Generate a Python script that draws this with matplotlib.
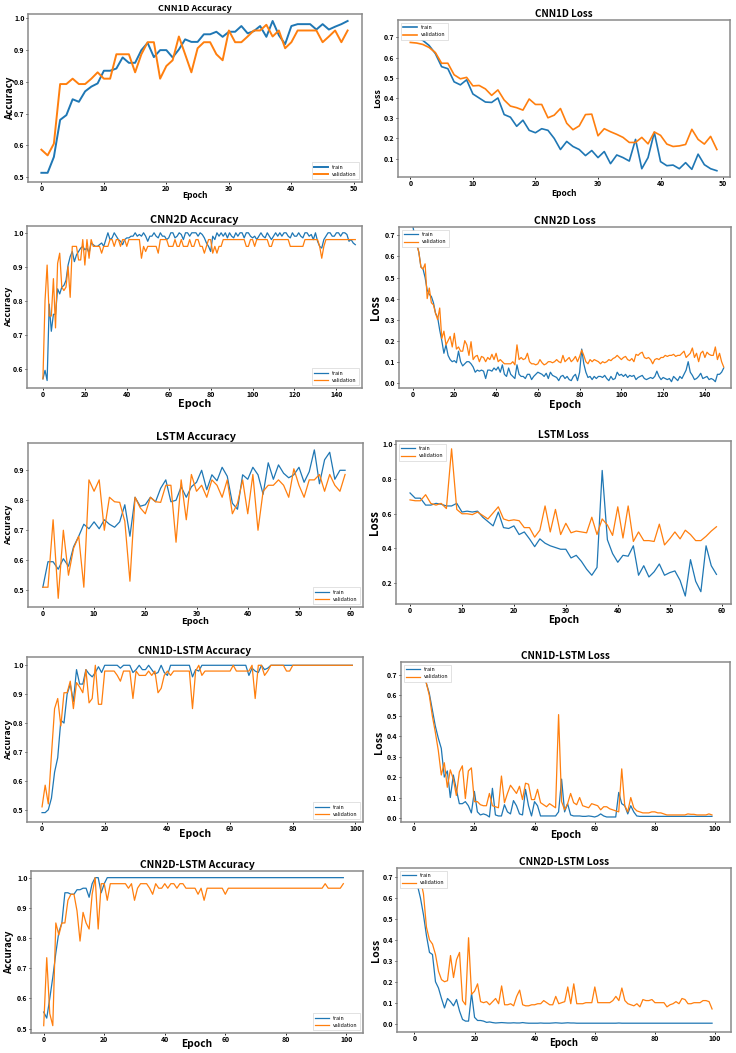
import numpy as np
import matplotlib
matplotlib.use("Agg")
import matplotlib.pyplot as plt

plt.rcParams['font.family'] = ['Noto Sans CJK KR', 'DejaVu Sans']

# ---- CNN1D (50 epochs)
cnn1d_acc_train = [0.513, 0.513, 0.563, 0.680, 0.695, 0.745, 0.737, 0.770, 0.785, 0.795,
                   0.835, 0.835, 0.842, 0.877, 0.860, 0.860, 0.900, 0.923, 0.878, 0.900,
                   0.900, 0.877, 0.902, 0.934, 0.926, 0.926, 0.950, 0.950, 0.958, 0.942,
                   0.958, 0.958, 0.976, 0.953, 0.960, 0.976, 0.942, 0.992, 0.947, 0.919,
                   0.976, 0.982, 0.982, 0.982, 0.965, 0.982, 0.965, 0.974, 0.982, 0.992]
cnn1d_acc_val = [0.586, 0.568, 0.605, 0.793, 0.793, 0.810, 0.793, 0.793, 0.810, 0.830,
                 0.810, 0.810, 0.887, 0.887, 0.887, 0.830, 0.887, 0.925, 0.925, 0.810,
                 0.850, 0.868, 0.943, 0.887, 0.830, 0.906, 0.925, 0.925, 0.887, 0.868,
                 0.962, 0.925, 0.925, 0.943, 0.962, 0.962, 0.980, 0.943, 0.962, 0.906,
                 0.925, 0.962, 0.962, 0.962, 0.962, 0.925, 0.943, 0.962, 0.925, 0.962]
cnn1d_loss_train = [0.750, 0.700, 0.685, 0.660, 0.620, 0.555, 0.545, 0.480, 0.465, 0.490,
                    0.420, 0.400, 0.380, 0.378, 0.400, 0.318, 0.305, 0.260, 0.290, 0.240,
                    0.228, 0.248, 0.240, 0.200, 0.145, 0.185, 0.160, 0.145, 0.115, 0.140,
                    0.105, 0.135, 0.075, 0.118, 0.105, 0.088, 0.195, 0.050, 0.105, 0.230,
                    0.085, 0.065, 0.068, 0.050, 0.080, 0.047, 0.122, 0.070, 0.050, 0.040]
cnn1d_loss_val = [0.675, 0.672, 0.665, 0.650, 0.625, 0.572, 0.572, 0.515, 0.495, 0.502,
                  0.460, 0.462, 0.445, 0.413, 0.440, 0.390, 0.360, 0.352, 0.340, 0.395,
                  0.368, 0.368, 0.302, 0.315, 0.348, 0.275, 0.243, 0.262, 0.318, 0.320,
                  0.213, 0.248, 0.233, 0.220, 0.205, 0.180, 0.180, 0.205, 0.173, 0.232,
                  0.215, 0.172, 0.160, 0.163, 0.170, 0.245, 0.195, 0.172, 0.210, 0.145]

# ---- CNN2D (150 epochs)
cnn2d_acc_train = [0.57, 0.595, 0.565, 0.79, 0.71, 0.76, 0.76, 0.835, 0.82, 0.84,
                   0.845, 0.86, 0.905, 0.93, 0.945, 0.915, 0.935, 0.945, 0.955, 0.96,
                   0.95, 0.955, 0.94, 0.97, 0.965, 0.96, 0.96, 0.965, 0.97, 0.96,
                   0.98, 1.0, 0.98, 0.985, 1.0, 0.99, 0.98, 0.975, 0.965, 0.98,
                   0.985, 0.985, 0.99, 0.99, 1.0, 0.99, 0.995, 0.99, 1.0, 0.99,
                   0.975, 0.99, 0.99, 1.0, 0.99, 0.985, 1.0, 0.99, 0.99, 0.98,
                   0.985, 1.0, 1.0, 0.985, 0.99, 1.0, 0.995, 0.98, 1.0, 1.0,
                   0.99, 1.0, 1.0, 1.0, 0.99, 1.0, 0.995, 0.985, 0.97, 0.96,
                   0.945, 0.99, 0.98, 1.0, 0.99, 1.0, 0.99, 1.0, 0.985, 1.0,
                   0.99, 0.985, 1.0, 0.99, 1.0, 1.0, 0.985, 1.0, 1.0, 0.99,
                   0.985, 0.99, 0.98, 0.99, 1.0, 0.99, 0.985, 1.0, 0.99, 0.98,
                   0.99, 1.0, 0.99, 1.0, 0.99, 1.0, 1.0, 0.99, 0.985, 1.0,
                   0.99, 0.99, 1.0, 0.99, 0.985, 1.0, 1.0, 0.99, 0.995, 0.98,
                   1.0, 0.975, 0.96, 0.955, 0.98, 0.99, 1.0, 1.0, 0.99, 0.99,
                   1.0, 1.0, 0.99, 1.0, 1.0, 0.995, 0.975, 0.98, 0.97, 0.965]
cnn2d_acc_val = [0.57, 0.80, 0.905, 0.755, 0.755, 0.865, 0.72, 0.91, 0.94, 0.84,
                 0.83, 0.84, 0.90, 0.81, 0.96, 0.96, 0.96, 0.92, 0.92, 0.98,
                 0.905, 0.98, 0.925, 0.98, 0.96, 0.96, 0.96, 0.96, 0.94, 0.96,
                 0.96, 0.96, 0.98, 0.98, 0.96, 0.98, 0.98, 0.96, 0.98, 0.98,
                 0.96, 0.98, 0.98, 0.98, 0.98, 0.98, 0.98, 0.925, 0.96, 0.945,
                 0.96, 0.96, 0.96, 0.96, 0.96, 0.94, 0.98, 0.98, 0.98, 0.98,
                 0.96, 0.96, 0.96, 0.98, 0.96, 0.96, 0.98, 0.96, 0.96, 0.96,
                 0.98, 0.96, 0.96, 0.98, 0.98, 0.96, 0.96, 0.94, 0.96, 0.98,
                 0.98, 0.94, 0.96, 0.94, 0.96, 0.96, 0.98, 0.98, 0.98, 0.98,
                 0.98, 0.98, 0.98, 0.98, 0.98, 0.98, 0.98, 0.96, 0.96, 0.98,
                 0.98, 0.96, 0.98, 0.98, 0.98, 0.98, 0.98, 0.98, 0.96, 0.96,
                 0.98, 0.98, 0.98, 0.98, 0.98, 0.98, 0.98, 0.98, 0.96, 0.96,
                 0.96, 0.96, 0.96, 0.96, 0.96, 0.98, 0.98, 0.98, 0.98, 0.98,
                 0.98, 0.98, 0.96, 0.925, 0.96, 0.98, 0.98, 0.98, 0.98, 0.98,
                 0.98, 0.98, 0.98, 0.98, 0.98, 0.98, 0.98, 0.98, 0.98, 0.98]
cnn2d_loss_train = [0.75, 0.70, 0.66, 0.62, 0.55, 0.54, 0.50, 0.44, 0.42, 0.41,
                    0.38, 0.33, 0.31, 0.25, 0.20, 0.14, 0.18, 0.13, 0.11, 0.10,
                    0.105, 0.095, 0.15, 0.10, 0.08, 0.09, 0.10, 0.10, 0.09, 0.075,
                    0.05, 0.06, 0.055, 0.06, 0.055, 0.02, 0.06, 0.06, 0.055, 0.07,
                    0.06, 0.075, 0.05, 0.085, 0.04, 0.03, 0.07, 0.04, 0.03, 0.02,
                    0.085, 0.04, 0.03, 0.03, 0.02, 0.04, 0.04, 0.015, 0.03, 0.04,
                    0.05, 0.045, 0.04, 0.03, 0.045, 0.02, 0.05, 0.035, 0.03, 0.025,
                    0.01, 0.03, 0.035, 0.02, 0.03, 0.015, 0.01, 0.03, 0.04, 0.01,
                    0.05, 0.16, 0.09, 0.05, 0.025, 0.03, 0.015, 0.03, 0.02, 0.03,
                    0.03, 0.025, 0.035, 0.02, 0.01, 0.03, 0.015, 0.02, 0.05, 0.035,
                    0.04, 0.03, 0.04, 0.025, 0.035, 0.03, 0.035, 0.015, 0.025, 0.03,
                    0.035, 0.02, 0.015, 0.02, 0.025, 0.02, 0.03, 0.055, 0.03, 0.015,
                    0.025, 0.02, 0.015, 0.02, 0.005, 0.03, 0.02, 0.01, 0.03, 0.02,
                    0.04, 0.06, 0.10, 0.05, 0.035, 0.015, 0.02, 0.03, 0.045, 0.02,
                    0.025, 0.03, 0.015, 0.02, 0.015, 0.005, 0.04, 0.04, 0.05, 0.07]
cnn2d_loss_val = [0.72, 0.69, 0.66, 0.62, 0.55, 0.54, 0.565, 0.40, 0.45, 0.38,
                  0.37, 0.33, 0.30, 0.355, 0.21, 0.245, 0.18, 0.20, 0.22, 0.17,
                  0.235, 0.16, 0.17, 0.15, 0.15, 0.20, 0.18, 0.13, 0.195, 0.11,
                  0.125, 0.13, 0.10, 0.125, 0.12, 0.10, 0.12, 0.11, 0.135, 0.11,
                  0.14, 0.10, 0.11, 0.10, 0.09, 0.09, 0.09, 0.09, 0.10, 0.085,
                  0.18, 0.11, 0.12, 0.11, 0.115, 0.14, 0.10, 0.09, 0.09, 0.085,
                  0.09, 0.11, 0.095, 0.085, 0.09, 0.10, 0.10, 0.095, 0.10, 0.11,
                  0.10, 0.095, 0.13, 0.10, 0.11, 0.12, 0.10, 0.11, 0.125, 0.10,
                  0.125, 0.155, 0.13, 0.10, 0.09, 0.11, 0.10, 0.11, 0.105, 0.10,
                  0.09, 0.10, 0.095, 0.10, 0.11, 0.105, 0.115, 0.12, 0.13, 0.12,
                  0.11, 0.12, 0.125, 0.11, 0.105, 0.115, 0.10, 0.135, 0.13, 0.14,
                  0.145, 0.12, 0.115, 0.12, 0.11, 0.09, 0.11, 0.115, 0.11, 0.12,
                  0.12, 0.13, 0.125, 0.13, 0.13, 0.135, 0.125, 0.13, 0.13, 0.14,
                  0.15, 0.12, 0.13, 0.14, 0.165, 0.12, 0.14, 0.10, 0.14, 0.15,
                  0.12, 0.145, 0.135, 0.13, 0.13, 0.17, 0.11, 0.14, 0.10, 0.075]

# ---- LSTM (60 epochs)
lstm_acc_train = [0.51, 0.595, 0.595, 0.57, 0.605, 0.58, 0.645, 0.68, 0.72, 0.705,
                  0.728, 0.705, 0.735, 0.72, 0.71, 0.728, 0.785, 0.68, 0.81, 0.78,
                  0.785, 0.81, 0.795, 0.84, 0.868, 0.795, 0.80, 0.845, 0.81, 0.845,
                  0.86, 0.90, 0.835, 0.885, 0.865, 0.91, 0.88, 0.79, 0.77, 0.885,
                  0.87, 0.91, 0.885, 0.82, 0.925, 0.87, 0.918, 0.89, 0.875, 0.885,
                  0.91, 0.86, 0.895, 0.968, 0.855, 0.935, 0.96, 0.87, 0.90, 0.90]
lstm_acc_val = [0.51, 0.51, 0.735, 0.473, 0.70, 0.55, 0.64, 0.68, 0.51, 0.868,
                0.83, 0.868, 0.70, 0.81, 0.795, 0.793, 0.73, 0.53, 0.81, 0.775,
                0.755, 0.81, 0.795, 0.793, 0.85, 0.85, 0.66, 0.868, 0.735, 0.886,
                0.83, 0.85, 0.81, 0.868, 0.85, 0.81, 0.868, 0.755, 0.79, 0.868,
                0.755, 0.886, 0.70, 0.83, 0.85, 0.85, 0.868, 0.85, 0.81, 0.905,
                0.85, 0.81, 0.868, 0.868, 0.886, 0.83, 0.886, 0.85, 0.83, 0.886]
lstm_loss_train = [0.72, 0.69, 0.69, 0.65, 0.65, 0.66, 0.655, 0.645, 0.645, 0.66,
                   0.61, 0.615, 0.61, 0.615, 0.58, 0.555, 0.53, 0.61, 0.52, 0.515,
                   0.53, 0.48, 0.495, 0.455, 0.41, 0.455, 0.43, 0.415, 0.405, 0.395,
                   0.395, 0.345, 0.36, 0.325, 0.28, 0.245, 0.29, 0.85, 0.45, 0.37,
                   0.32, 0.36, 0.355, 0.415, 0.245, 0.30, 0.235, 0.265, 0.31, 0.245,
                   0.26, 0.27, 0.215, 0.125, 0.335, 0.21, 0.15, 0.415, 0.30, 0.25]
lstm_loss_val = [0.68, 0.675, 0.675, 0.71, 0.66, 0.65, 0.66, 0.63, 0.975, 0.625,
                 0.60, 0.60, 0.595, 0.61, 0.59, 0.57, 0.605, 0.64, 0.57, 0.56,
                 0.565, 0.56, 0.52, 0.52, 0.465, 0.505, 0.645, 0.495, 0.625, 0.48,
                 0.545, 0.49, 0.50, 0.495, 0.49, 0.58, 0.48, 0.57, 0.535, 0.475,
                 0.64, 0.46, 0.645, 0.44, 0.495, 0.445, 0.445, 0.44, 0.54, 0.42,
                 0.455, 0.495, 0.455, 0.505, 0.48, 0.445, 0.445, 0.47, 0.50, 0.525]

# ---- CNN1D-LSTM (100 epochs)
c1l_acc_train = [0.49, 0.49, 0.50, 0.54, 0.63, 0.68, 0.81, 0.80, 0.90, 0.935,
                 0.875, 0.985, 0.935, 0.935, 0.985, 0.97, 0.96, 0.975, 0.995, 0.975,
                 1.0, 1.0, 1.0, 1.0, 1.0, 0.99, 1.0, 1.0, 1.0, 0.975,
                 0.985, 1.0, 0.985, 0.985, 1.0, 0.985, 0.97, 0.975, 1.0, 0.975,
                 0.965, 1.0, 1.0, 1.0, 1.0, 1.0, 1.0, 1.0, 0.96, 0.985,
                 0.98, 1.0, 1.0, 1.0, 1.0, 1.0, 1.0, 1.0, 1.0, 1.0,
                 1.0, 1.0, 1.0, 1.0, 1.0, 1.0, 0.965, 0.99, 0.98, 0.975,
                 1.0, 0.985, 0.99, 1.0, 1.0, 1.0, 1.0, 1.0, 1.0, 1.0,
                 1.0, 1.0, 1.0, 1.0, 1.0, 1.0, 1.0, 1.0, 1.0, 1.0,
                 1.0, 1.0, 1.0, 1.0, 1.0, 1.0, 1.0, 1.0, 1.0, 1.0]
c1l_acc_val = [0.51, 0.585, 0.52, 0.69, 0.85, 0.885, 0.79, 0.905, 0.905, 0.945,
               0.85, 0.94, 0.925, 0.905, 0.985, 0.87, 0.885, 1.0, 0.865, 0.865,
               0.98, 0.98, 0.98, 0.98, 0.965, 0.945, 0.98, 0.98, 0.98, 0.885,
               0.98, 0.965, 0.965, 0.965, 0.98, 0.965, 0.98, 0.905, 0.92, 0.965,
               0.98, 0.965, 0.98, 0.98, 0.98, 0.98, 0.98, 0.98, 0.85, 0.98,
               1.0, 0.965, 0.98, 0.98, 0.98, 0.98, 0.98, 0.98, 0.98, 0.98,
               0.98, 1.0, 0.98, 0.98, 0.98, 0.98, 0.98, 1.0, 0.885, 1.0,
               1.0, 0.965, 0.98, 1.0, 1.0, 1.0, 1.0, 1.0, 0.98, 0.98,
               1.0, 1.0, 1.0, 1.0, 1.0, 1.0, 1.0, 1.0, 1.0, 1.0,
               1.0, 1.0, 1.0, 1.0, 1.0, 1.0, 1.0, 1.0, 1.0, 1.0]
c1l_loss_train = [0.72, 0.71, 0.70, 0.69, 0.66, 0.61, 0.53, 0.45, 0.39, 0.34,
                  0.20, 0.23, 0.10, 0.21, 0.14, 0.07, 0.07, 0.08, 0.06, 0.025,
                  0.13, 0.03, 0.015, 0.02, 0.015, 0.005, 0.145, 0.015, 0.01, 0.01,
                  0.065, 0.03, 0.02, 0.085, 0.06, 0.02, 0.015, 0.14, 0.06, 0.01,
                  0.08, 0.06, 0.01, 0.01, 0.01, 0.01, 0.01, 0.01, 0.03, 0.19,
                  0.03, 0.07, 0.015, 0.01, 0.01, 0.01, 0.008, 0.008, 0.01, 0.008,
                  0.005, 0.01, 0.02, 0.01, 0.005, 0.005, 0.005, 0.005, 0.125, 0.07,
                  0.06, 0.02, 0.06, 0.03, 0.01, 0.008, 0.008, 0.008, 0.008, 0.008,
                  0.008, 0.008, 0.008, 0.008, 0.008, 0.008, 0.008, 0.008, 0.008, 0.008,
                  0.008, 0.008, 0.008, 0.008, 0.008, 0.008, 0.008, 0.008, 0.008, 0.008]
c1l_loss_val = [0.72, 0.71, 0.70, 0.69, 0.66, 0.60, 0.50, 0.42, 0.33, 0.21,
                0.27, 0.15, 0.235, 0.19, 0.11, 0.225, 0.255, 0.095, 0.23, 0.245,
                0.08, 0.08, 0.065, 0.06, 0.06, 0.12, 0.06, 0.055, 0.05, 0.205,
                0.075, 0.12, 0.16, 0.14, 0.12, 0.155, 0.09, 0.17, 0.165, 0.09,
                0.09, 0.14, 0.075, 0.065, 0.055, 0.07, 0.06, 0.05, 0.505, 0.08,
                0.04, 0.07, 0.12, 0.075, 0.065, 0.10, 0.06, 0.055, 0.05, 0.07,
                0.065, 0.06, 0.04, 0.055, 0.055, 0.045, 0.04, 0.035, 0.03, 0.24,
                0.06, 0.03, 0.10, 0.05, 0.035, 0.03, 0.025, 0.025, 0.025, 0.03,
                0.03, 0.025, 0.025, 0.02, 0.015, 0.015, 0.015, 0.015, 0.015, 0.015,
                0.015, 0.02, 0.018, 0.018, 0.015, 0.015, 0.015, 0.015, 0.02, 0.015]

# ---- CNN2D-LSTM (100 epochs)
c2l_acc_train = [0.555, 0.535, 0.60, 0.67, 0.75, 0.82, 0.85, 0.95, 0.95, 0.945,
                 0.945, 0.96, 0.96, 0.965, 0.965, 0.935, 0.98, 1.0, 1.0, 0.95,
                 0.98, 1.0, 1.0, 1.0, 1.0, 1.0, 1.0, 1.0, 1.0, 1.0,
                 1.0, 1.0, 1.0, 1.0, 1.0, 1.0, 1.0, 1.0, 1.0, 1.0,
                 1.0, 1.0, 1.0, 1.0, 1.0, 1.0, 1.0, 1.0, 1.0, 1.0,
                 1.0, 1.0, 1.0, 1.0, 1.0, 1.0, 1.0, 1.0, 1.0, 1.0,
                 1.0, 1.0, 1.0, 1.0, 1.0, 1.0, 1.0, 1.0, 1.0, 1.0,
                 1.0, 1.0, 1.0, 1.0, 1.0, 1.0, 1.0, 1.0, 1.0, 1.0,
                 1.0, 1.0, 1.0, 1.0, 1.0, 1.0, 1.0, 1.0, 1.0, 1.0,
                 1.0, 1.0, 1.0, 1.0, 1.0, 1.0, 1.0, 1.0, 1.0, 1.0]
c2l_acc_val = [0.51, 0.735, 0.55, 0.51, 0.85, 0.81, 0.85, 0.85, 0.925, 0.945,
               0.945, 0.89, 0.79, 0.885, 0.85, 0.83, 0.945, 1.0, 0.83, 0.98,
               0.98, 0.925, 0.98, 0.98, 0.98, 0.98, 0.98, 0.98, 0.965, 0.98,
               0.925, 0.965, 0.98, 0.98, 0.98, 0.965, 0.945, 0.98, 0.965, 0.965,
               0.98, 0.965, 0.98, 0.98, 0.965, 0.98, 0.98, 0.965, 0.965, 0.965,
               0.965, 0.945, 0.965, 0.925, 0.965, 0.965, 0.965, 0.965, 0.965, 0.965,
               0.945, 0.965, 0.965, 0.965, 0.965, 0.965, 0.965, 0.965, 0.965, 0.965,
               0.965, 0.965, 0.965, 0.965, 0.965, 0.965, 0.965, 0.965, 0.965, 0.965,
               0.965, 0.965, 0.965, 0.965, 0.965, 0.965, 0.965, 0.965, 0.965, 0.965,
               0.965, 0.965, 0.965, 0.98, 0.965, 0.965, 0.965, 0.965, 0.965, 0.98]
c2l_loss_train = [0.70, 0.66, 0.60, 0.52, 0.42, 0.34, 0.33, 0.20, 0.17, 0.12,
                  0.075, 0.12, 0.105, 0.085, 0.115, 0.06, 0.02, 0.012, 0.012, 0.145,
                  0.03, 0.015, 0.015, 0.012, 0.006, 0.008, 0.005, 0.003, 0.004, 0.005,
                  0.004, 0.003, 0.003, 0.004, 0.003, 0.003, 0.005, 0.003, 0.002, 0.002,
                  0.002, 0.002, 0.003, 0.002, 0.002, 0.002, 0.003, 0.004, 0.003, 0.002,
                  0.003, 0.004, 0.003, 0.003, 0.002, 0.002, 0.002, 0.002, 0.002, 0.002,
                  0.002, 0.002, 0.002, 0.002, 0.002, 0.002, 0.002, 0.002, 0.003, 0.002,
                  0.002, 0.002, 0.002, 0.002, 0.002, 0.002, 0.002, 0.002, 0.002, 0.002,
                  0.002, 0.002, 0.002, 0.002, 0.002, 0.002, 0.002, 0.002, 0.002, 0.002,
                  0.002, 0.002, 0.002, 0.002, 0.002, 0.002, 0.002, 0.002, 0.002, 0.002]
c2l_loss_val = [0.70, 0.70, 0.69, 0.62, 0.46, 0.40, 0.38, 0.33, 0.25, 0.21,
                0.20, 0.205, 0.325, 0.22, 0.305, 0.34, 0.11, 0.09, 0.41, 0.14,
                0.155, 0.19, 0.105, 0.10, 0.105, 0.09, 0.105, 0.12, 0.095, 0.18,
                0.09, 0.09, 0.095, 0.085, 0.13, 0.16, 0.09, 0.085, 0.085, 0.09,
                0.09, 0.095, 0.095, 0.11, 0.10, 0.09, 0.09, 0.13, 0.095, 0.10,
                0.105, 0.175, 0.095, 0.19, 0.095, 0.095, 0.095, 0.10, 0.10, 0.10,
                0.175, 0.10, 0.10, 0.10, 0.10, 0.10, 0.11, 0.13, 0.11, 0.17,
                0.11, 0.095, 0.09, 0.085, 0.095, 0.08, 0.115, 0.11, 0.11, 0.115,
                0.10, 0.10, 0.10, 0.10, 0.08, 0.09, 0.095, 0.105, 0.095, 0.12,
                0.115, 0.095, 0.095, 0.10, 0.10, 0.10, 0.11, 0.11, 0.105, 0.07]

W, H = 736, 1053


def draw(box, title, ylabel, train, val, loc, xlim, ylim, tsize, lsize, xsize,
         ylab_x, xlab_y, lw=0.9):
    # box = axes edges in pixels (left, top, right, bottom)
    x0, y0, x1, y1 = box
    ax = fig.add_axes([x0 / W, 1 - y1 / H, (x1 - x0) / W, (y1 - y0) / H])
    ax.plot(np.arange(len(train)), train, color='#1f77b4', lw=lw, label='train')
    ax.plot(np.arange(len(val)), val, color='#ff7f0e', lw=lw, label='validation')
    ax.set_xlim(*xlim)
    ax.set_ylim(*ylim)
    ax.set_title(title, fontsize=tsize, fontweight='bold', pad=2)
    ax.set_ylabel(ylabel, fontsize=lsize, fontweight='bold')
    ax.set_xlabel('Epoch', fontsize=xsize, fontweight='bold')
    # label positions measured in pixels, converted to axes fractions
    ax.yaxis.set_label_coords((ylab_x - x0) / (x1 - x0), 0.5)
    ax.xaxis.set_label_coords(0.5, -(xlab_y - y1) / (y1 - y0))
    ax.tick_params(labelsize=5, length=1.5, width=0.6, pad=1)
    for t in ax.get_xticklabels() + ax.get_yticklabels():
        t.set_fontweight('bold')
    for s in ax.spines.values():
        s.set_color('#8a8a8a')
        s.set_linewidth(1.1)
    leg = ax.legend(loc=loc, fontsize=3.8, handlelength=2.6, borderpad=0.5,
                    labelspacing=0.4, framealpha=1, fancybox=False)
    leg.get_frame().set_linewidth(0.4)
    return ax


fig = plt.figure(figsize=(W / 100, H / 100), dpi=100)

draw((28, 14, 362, 182), 'CNN1D Accuracy', 'Accuracy', cnn1d_acc_train, cnn1d_acc_val,
     'lower right', (-2.14, 51.3), (0.484, 1.014), 6.5, 7, 6, 15, 191, lw=1.4)
draw((398, 20, 730, 177), 'CNN1D Loss', 'Loss', cnn1d_loss_train, cnn1d_loss_val,
     'upper left', (-1.97, 51.1), (0.009, 0.786), 7.1, 6.5, 6, 382, 189, lw=1.2)
draw((27, 226, 362, 388), 'CNN2D Accuracy', 'Accuracy', cnn2d_acc_train, cnn2d_acc_val,
     'lower right', (-7.6, 152.2), (0.543, 1.02), 7.8, 6.5, 7.8, 13, 399)
draw((399, 227, 731, 388), 'CNN2D Loss', 'Loss', cnn2d_loss_train, cnn2d_loss_val,
     'upper left', (-6.5, 152.5), (-0.025, 0.74), 7.5, 8.2, 7.5, 382, 400)
draw((28, 443, 363, 607), 'LSTM Accuracy', 'Accuracy', lstm_acc_train, lstm_acc_val,
     'lower right', (-2.9, 62.5), (0.444, 0.991), 7.8, 6.5, 6.6, 13, 617)
draw((396, 441, 731, 604), 'LSTM Loss', 'Loss', lstm_loss_train, lstm_loss_val,
     'upper left', (-2.7, 61.8), (0.079, 1.02), 7.2, 8.2, 7.3, 381, 615)
draw((27, 657, 363, 822), 'CNN1D-LSTM Accuracy', 'Accuracy', c1l_acc_train, c1l_acc_val,
     'lower right', (-4.8, 102.4), (0.4575, 1.0287), 7.3, 6.6, 7.5, 13, 829)
draw((401, 662, 730, 822), 'CNN1D-LSTM Loss', 'Loss', c1l_loss_train, c1l_loss_val,
     'upper left', (-4.4, 105), (-0.0195, 0.762), 7.2, 7.5, 7.3, 384, 830)
draw((31, 871, 363, 1033), 'CNN2D-LSTM Accuracy', 'Accuracy', c2l_acc_train, c2l_acc_val,
     'lower right', (-4.2, 105.5), (0.4857, 1.022), 7.4, 7, 7.3, 14, 1039)
draw((397, 868, 731, 1032), 'CNN2D-LSTM Loss', 'Loss', c2l_loss_train, c2l_loss_val,
     'upper left', (-5.8, 105.3), (-0.04, 0.743), 7.3, 7.5, 6.9, 381, 1038)

fig.savefig('out.png', dpi=100)
